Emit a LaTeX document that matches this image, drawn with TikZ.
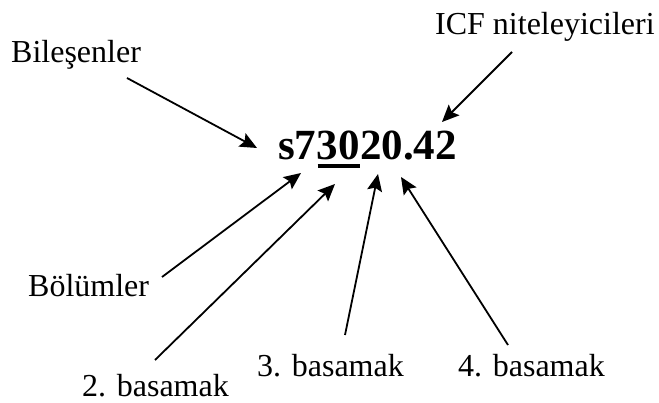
\documentclass[tikz,border=0pt]{standalone}
\usepackage{fontspec}
\setmainfont{Liberation Serif}
\usetikzlibrary{arrows.meta,calc}
\begin{document}
\begin{tikzpicture}[x=1pt,y=1pt,
  lbl/.style={inner sep=0pt,anchor=base west,font=\fontsize{32}{32}\selectfont},
  code/.style={inner sep=0pt,anchor=base west,font=\fontsize{43}{43}\selectfont\bfseries},
  arr/.style={line width=1.8pt,-{Stealth[length=17pt,width=15pt,inset=3pt]}}]
\useasboundingbox (0,0) rectangle (659,-403);
% labels
\node[lbl] (bil) at (11,-63) {Bileşenler};
\node[lbl] (icf) at (435,-35) {ICF niteleyicileri};
\node[lbl] (bol) at (28,-297) {Bölümler};
\node[lbl] (b2) at (82,-397) {2. basamak};
\node[lbl] (b3) at (257,-377) {3. basamak};
\node[lbl] (b4) at (458,-377) {4. basamak};
% code
\node[code] (pre) at (278,-160) {s7};
\node[code] (mid) at (pre.base east) {30};
\node[code] (post) at (mid.base east) {20.42};
\draw[line width=4pt] ($(mid.base west)+(1,-6)$) -- ($(mid.base east)+(0,-6)$);
% arrow start and end points
\coordinate (s1) at (127,-78);  \coordinate (t1) at (257,-148);
\coordinate (s2) at (512,-52);  \coordinate (t2) at (442,-122);
\coordinate (s3) at (162,-277); \coordinate (t3) at (301,-173);
\coordinate (s4) at (155,-360); \coordinate (t4) at (335,-184);
\coordinate (s5) at (345,-335); \coordinate (t5) at (378,-174);
\coordinate (s6) at (508,-345); \coordinate (t6) at (401,-177);
\draw[arr] (s1) -- (t1);
\draw[arr] (s2) -- (t2);
\draw[arr] (s3) -- (t3);
\draw[arr] (s4) -- (t4);
\draw[arr] (s5) -- (t5);
\draw[arr] (s6) -- (t6);
\end{tikzpicture}
\end{document}
